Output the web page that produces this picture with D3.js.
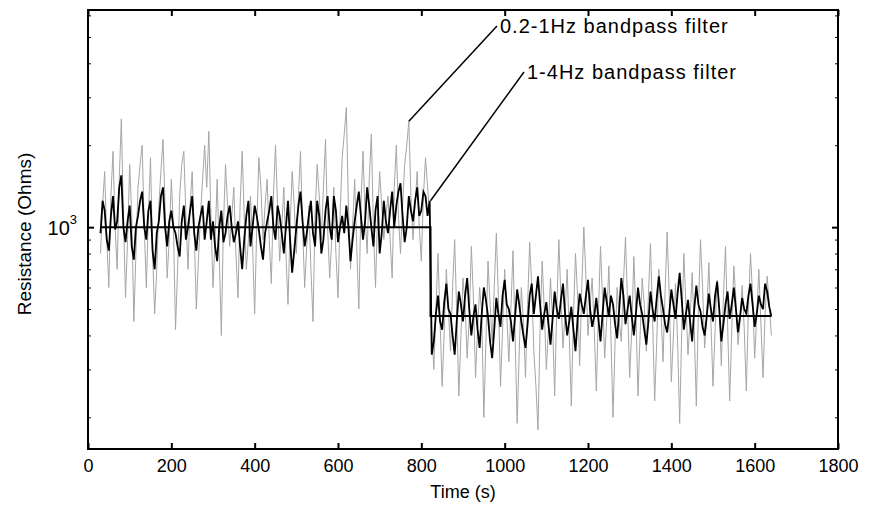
<!DOCTYPE html>
<html><head><meta charset="utf-8">
<script src="https://cdn.jsdelivr.net/npm/d3@7"></script>
<style>
body{margin:0;background:#fff}
text{font-family:"Liberation Sans",Arial,Helvetica,sans-serif;fill:#000}
</style>
</head><body>
<svg id="c" width="869" height="518"></svg>
<script>
// sampling: 5 s; segment A starts at 30 s, segment B at 825 s
const dt = 5, startA = 30, startB = 825;
// 1-4Hz bandpass filter (black), Ohms
const blackA = [
 950,1250,1150,900,820,1100,1300,980,1050,1400,1550,1000,880,1050,1200,850,760,1000,1100,1250,
 1350,1000,900,1150,1250,820,700,950,1050,1300,1400,1000,850,1050,1150,1000,950,850,780,1050,
 1200,900,1000,1150,1300,950,820,1000,1100,1200,900,1050,1250,900,1050,850,750,1000,1150,880,
 950,1100,1200,1000,880,950,1050,850,700,900,1100,1250,850,1000,1200,1100,980,850,760,950,
 1050,1150,1300,1000,900,1200,1100,950,800,1000,1250,900,680,820,1000,1200,1350,1050,850,950,
 1100,1250,950,850,1250,1100,800,900,1150,1300,1000,900,1300,1150,880,1000,1100,950,1200,1000,
 750,900,1050,1200,1350,1100,900,1050,1400,1200,1000,850,1150,1300,800,950,1250,1050,950,1150,
 1350,1000,1200,1350,1450,1100,880,1000,1300,1150,1050,1250,1400,1100,1150,1350,1300,1100,1250
];
const blackB = [
 340,380,480,560,450,420,530,620,500,480,400,340,450,580,520,450,560,650,500,400,
 470,520,420,360,480,600,540,470,380,330,420,550,480,430,560,640,520,500,450,380,
 470,590,520,450,400,360,440,560,620,480,560,660,520,420,480,530,440,370,460,580,
 500,460,540,620,480,400,450,510,420,350,460,570,520,480,560,640,500,430,470,550,
 460,380,480,600,530,470,560,520,440,390,500,650,560,440,500,560,470,400,480,600,
 520,480,420,370,450,580,500,450,550,660,560,500,440,410,480,590,520,460,570,680,
 540,420,480,540,450,380,500,610,520,490,430,400,470,570,500,450,560,630,500,380,
 440,520,580,460,520,600,500,410,470,550,500,480,560,620,520,430,480,560,520,500,
 620,580,510,470
];
// 0.2-1Hz bandpass filter (gray), Ohms
const grayA = [
 800,1200,1600,900,600,1300,1900,1000,700,1500,2500,1100,550,900,1700,1100,450,800,1400,1700,
 2000,1000,600,1100,1800,800,480,700,1200,1600,2100,1200,650,900,1500,1000,420,700,1300,1700,
 1900,1100,700,1200,1600,950,500,750,1100,1500,2000,1400,2250,1100,600,900,1500,800,400,1000,
 1700,1200,850,1100,1400,800,550,1200,1900,1100,700,900,1300,850,480,1000,1800,1400,900,1200,
 1500,900,620,1300,2000,1200,750,1000,1400,800,520,1000,1600,1200,800,1300,1900,1000,600,850,
 1200,700,450,1100,1700,1300,900,1400,2100,1000,650,900,1400,800,550,1100,1800,2200,2750,1200,
 700,1000,1500,850,500,1200,1900,1100,800,1500,2200,1000,600,1100,1600,1200,900,1100,1300,900,
 650,1400,2000,1100,800,1200,1700,2000,2450,1300,900,1200,1600,1000,750,1300,1800,1400,1100
];
const grayB = [
 420,300,500,800,450,260,420,700,500,350,600,900,480,240,400,650,520,330,460,850,
 550,280,420,600,480,200,380,750,520,380,600,950,550,260,420,700,480,320,500,820,
 400,190,350,600,450,280,520,880,600,350,260,180,420,750,500,300,420,650,450,240,
 500,900,550,360,480,700,400,220,460,800,560,310,600,1000,650,400,520,650,420,250,
 480,850,540,330,460,720,400,200,380,600,450,380,620,920,520,280,420,780,480,240,
 400,650,520,350,560,870,460,230,380,700,500,320,580,960,560,270,400,620,380,190,
 420,800,520,340,460,680,420,220,500,900,600,360,480,740,450,260,420,640,500,310,
 560,850,440,230,420,720,540,370,450,610,420,250,500,800,560,330,470,700,440,280,
 480,660,520,400
];
// step (mean level)
const stepTimes = [30, 822, 1640];
const stepLevels = [1000, 471, 471];
const xTicks = [0,200,400,600,800,1000,1200,1400,1600,1800];
const yMajor = [1000];
const yMinor = [200,300,400,500,600,700,800,900,2000,3000,4000,5000,6000];

const timesOf = (arr, s) => arr.map((_, i) => s + dt * i);
const blackSeries = blackA.concat(blackB), graySeries = grayA.concat(grayB);
const times = timesOf(blackA, startA).concat(timesOf(blackB, startB));
const timesG = timesOf(grayA, startA).concat(timesOf(grayB, startB));

const svg = d3.select("#c");
const L=88, R=838, T=10, B=449;
const x = d3.scaleLinear().domain([0,1800]).range([L,R]);
const y = d3.scaleLog().domain([153,6280]).range([B,T]);

svg.append("path").datum(graySeries)
  .attr("d", d3.line().x((d,i)=>x(timesG[i])).y(d=>y(d)))
  .attr("fill","none").attr("stroke","#a6a6a6").attr("stroke-width",1);
svg.append("path").datum(blackSeries)
  .attr("d", d3.line().x((d,i)=>x(times[i])).y(d=>y(d)))
  .attr("fill","none").attr("stroke","#000").attr("stroke-width",1.8);
const stepLine = d3.line().curve(d3.curveStepAfter).x((d,i)=>x(stepTimes[i])).y(d=>y(d));
svg.append("path").datum(stepLevels).attr("d",stepLine)
  .attr("fill","none").attr("stroke","#000").attr("stroke-width",2);

// box
svg.append("rect").attr("x",L).attr("y",T).attr("width",R-L).attr("height",B-T)
  .attr("fill","none").attr("stroke","#000").attr("stroke-width",2);

function clean(g,w){ g.select(".domain").remove(); g.selectAll("line").attr("stroke","#000").attr("stroke-width",w); }
const gb = svg.append("g").attr("transform",`translate(0,${B})`)
  .call(d3.axisBottom(x).tickValues(xTicks).tickSize(-6).tickPadding(10).tickFormat(d3.format("d")));
clean(gb,2); gb.selectAll("text").attr("font-size",18).attr("font-family","Liberation Sans, Arial");
const gt = svg.append("g").attr("transform",`translate(0,${T})`)
  .call(d3.axisTop(x).tickValues(xTicks).tickSize(-6).tickFormat(""));
clean(gt,2);
const gl = svg.append("g").attr("transform",`translate(${L},0)`)
  .call(d3.axisLeft(y).tickValues(yMajor).tickSize(-6).tickFormat(""));
clean(gl,2);
const gr = svg.append("g").attr("transform",`translate(${R},0)`)
  .call(d3.axisRight(y).tickValues(yMajor).tickSize(-6).tickFormat(""));
clean(gr,2);
const gl2 = svg.append("g").attr("transform",`translate(${L},0)`)
  .call(d3.axisLeft(y).tickValues(yMinor).tickSize(-3).tickFormat(""));
clean(gl2,1);
const gr2 = svg.append("g").attr("transform",`translate(${R},0)`)
  .call(d3.axisRight(y).tickValues(yMinor).tickSize(-3).tickFormat(""));
clean(gr2,1);

// 10^3 label
const lab = svg.append("text").attr("x",L-11).attr("y",y(1000)+8)
  .attr("text-anchor","end").attr("font-size",20);
lab.append("tspan").text("10");
lab.append("tspan").attr("font-size",13).attr("dy",-11).text("3");

// axis titles
svg.append("text").attr("x",463).attr("y",498).attr("text-anchor","middle")
  .attr("font-size",18).text("Time (s)");
svg.append("text").attr("transform",`translate(31,234) rotate(-90)`)
  .attr("text-anchor","middle").attr("font-size",19).text("Resistance (Ohms)");

// annotations
const ann = [
  {t:770, v:grayA[(770-startA)/dt], tx:497, ty:26, label:"0.2-1Hz bandpass filter"},
  {t:822, v:blackA[(820-startA)/dt], tx:524, ty:72, label:"1-4Hz bandpass filter"}
];
ann.forEach(a=>{
  svg.append("line").attr("x1",x(a.t)).attr("y1",y(a.v)).attr("x2",a.tx).attr("y2",a.ty)
    .attr("stroke","#000").attr("stroke-width",1.5);
  svg.append("text").attr("x",a.tx+3).attr("y",a.ty+7).attr("font-size",20)
    .attr("letter-spacing",1).text(a.label);
});
</script>
</body></html>
